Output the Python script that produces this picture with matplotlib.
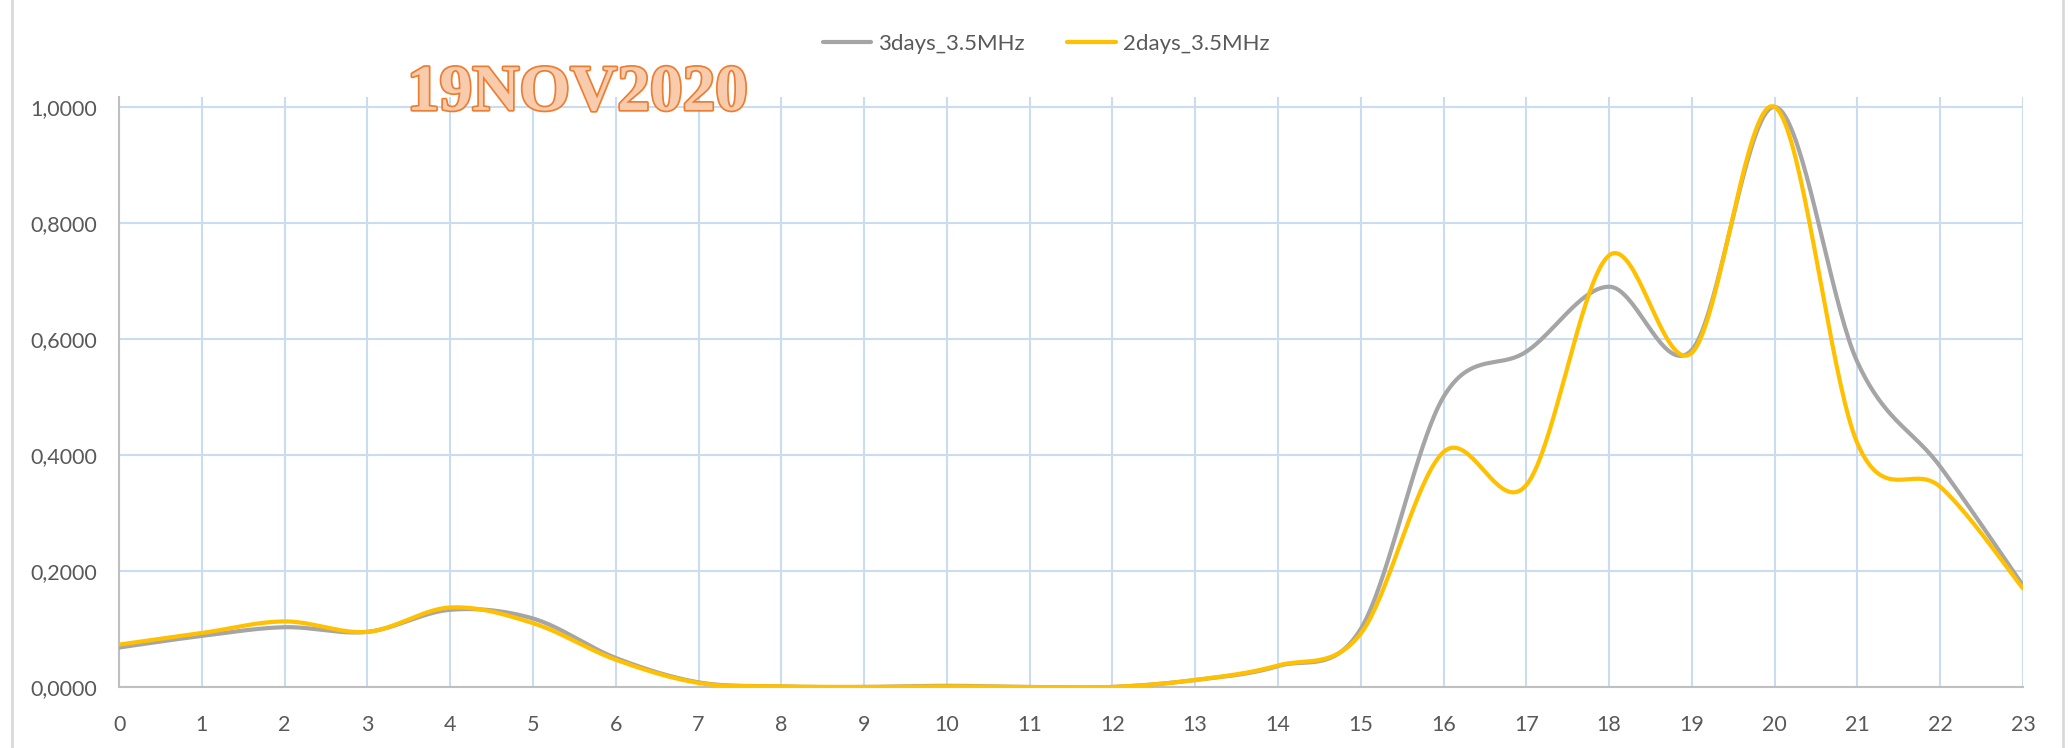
import numpy as np
import matplotlib
matplotlib.use("Agg")
import matplotlib.pyplot as plt
import matplotlib.patheffects as pe
from matplotlib.lines import Line2D
from matplotlib.ticker import FuncFormatter

# === datos (hora del dia) ===
hours = list(range(24))
days3 = [0.068, 0.088, 0.103, 0.095, 0.133, 0.118, 0.050, 0.008, 0.001, 0.0,
         0.002, 0.0, 0.0, 0.012, 0.036, 0.100, 0.500, 0.578, 0.690, 0.581,
         1.000, 0.560, 0.380, 0.175]
days2 = [0.073, 0.093, 0.113, 0.095, 0.137, 0.110, 0.047, 0.007, 0.001, 0.0,
         0.001, 0.0, 0.0, 0.012, 0.037, 0.092, 0.405, 0.348, 0.744, 0.576,
         1.000, 0.420, 0.345, 0.170]
series_names = ["3days_3.5MHz", "2days_3.5MHz"]
title_text = "19NOV2020"


def smooth(x, y, n=40):
    # curva suavizada tipo Excel (Catmull-Rom)
    x = np.asarray(x, float)
    y = np.asarray(y, float)
    px = np.concatenate([[x[0]], x, [x[-1]]])
    py = np.concatenate([[y[0]], y, [y[-1]]])
    xs, ys = [], []
    t = np.linspace(0, 1, n)
    for i in range(1, len(x)):
        p0 = np.array([px[i - 1], py[i - 1]])
        p1 = np.array([px[i], py[i]])
        p2 = np.array([px[i + 1], py[i + 1]])
        p3 = np.array([px[i + 2], py[i + 2]])
        c1 = p1 + (p2 - p0) / 6
        c2 = p2 - (p3 - p1) / 6
        pts = ((1 - t) ** 3)[:, None] * p1 + (3 * (1 - t) ** 2 * t)[:, None] * c1 \
            + (3 * (1 - t) * t ** 2)[:, None] * c2 + (t ** 3)[:, None] * p2
        xs.extend(pts[:, 0])
        ys.extend(pts[:, 1])
    return np.array(xs), np.array(ys)


plt.rcParams['font.family'] = ['Lato', 'DejaVu Sans']

fig = plt.figure(figsize=(20.71, 7.48), dpi=100)
ax = fig.add_axes([0.0575, 0.0816, 0.9193, 0.7887])

grid_c = "#C9DCF0"
txt_c = "#595959"

for i, (vals, col) in enumerate([(days3, "#A5A5A5"), (days2, "#FFC000")]):
    sx, sy = smooth(hours, vals)
    ax.plot(sx, sy, color=col, lw=3, label=series_names[i], solid_capstyle='round', zorder=3 + i)

ax.set_xlim(0, 23)
ax.set_ylim(0, 1.017)
ax.set_xticks(hours)
ax.set_yticks([0, 0.2, 0.4, 0.6, 0.8, 1.0])
ax.yaxis.set_major_formatter(FuncFormatter(lambda v, p: f"{v:.4f}".replace(".", ",")))
ax.grid(True, color=grid_c, lw=1.5)
ax.set_axisbelow(True)
for s in ["top", "right"]:
    ax.spines[s].set_visible(False)
for s in ["left", "bottom"]:
    ax.spines[s].set_color("#BFBFBF")
    ax.spines[s].set_linewidth(1.5)
ax.tick_params(length=0, labelsize=15.5, colors=txt_c)
ax.tick_params(axis='x', pad=20)
ax.tick_params(axis='y', pad=16)

leg = fig.legend(loc="center", bbox_to_anchor=(0.505, 0.941), ncol=2, frameon=False,
                 fontsize=16, handlelength=2.2, columnspacing=1.9, handletextpad=0.3)
for t in leg.get_texts():
    t.set_color(txt_c)

fig.text(0.1965, 0.853, title_text, fontsize=47, family="Liberation Serif", weight="bold",
         color="#F8CBAD", ha="left", va="baseline",
         path_effects=[pe.Stroke(linewidth=2.5, foreground="#ED7D31"), pe.Normal()])

# borde del grafico
fig.add_artist(Line2D([0.0058, 0.0058], [0, 1], color="#D9D9D9", lw=2, transform=fig.transFigure))
fig.add_artist(Line2D([0.9962, 0.9962], [0, 1], color="#D9D9D9", lw=2, transform=fig.transFigure))

fig.savefig("out.png", dpi=100)
